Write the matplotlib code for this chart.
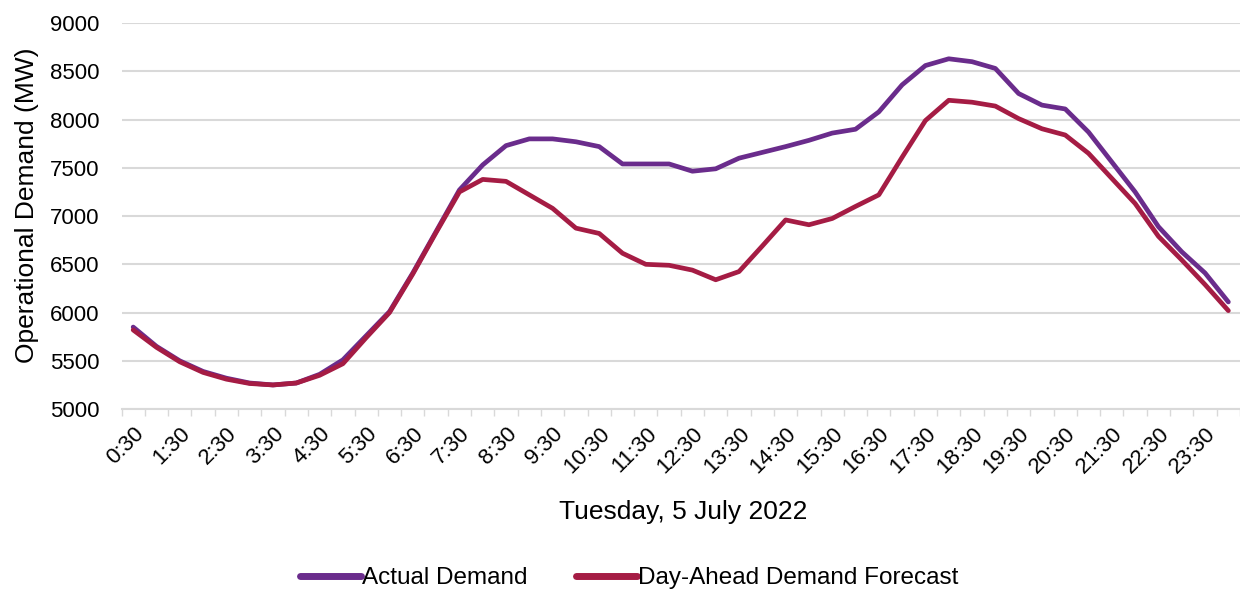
import matplotlib
matplotlib.use("Agg")
import matplotlib.pyplot as plt
import numpy as np

plt.rcParams['font.family'] = ['Liberation Sans', 'DejaVu Sans']

# half-hourly periods ending 0:30 ... 24:00
times = ['0:30', '1:00', '1:30', '2:00', '2:30', '3:00', '3:30', '4:00',
         '4:30', '5:00', '5:30', '6:00', '6:30', '7:00', '7:30', '8:00',
         '8:30', '9:00', '9:30', '10:00', '10:30', '11:00', '11:30', '12:00',
         '12:30', '13:00', '13:30', '14:00', '14:30', '15:00', '15:30', '16:00',
         '16:30', '17:00', '17:30', '18:00', '18:30', '19:00', '19:30', '20:00',
         '20:30', '21:00', '21:30', '22:00', '22:30', '23:00', '23:30', '24:00']

actual = [5850, 5650, 5500, 5390, 5320, 5270, 5250, 5270, 5360, 5510, 5760, 6010,
          6410, 6840, 7270, 7530, 7730, 7800, 7800, 7770, 7720, 7540, 7540, 7540,
          7465, 7490, 7600, 7660, 7720, 7785, 7860, 7900, 8080, 8360, 8560, 8630,
          8600, 8530, 8270, 8150, 8110, 7870, 7560, 7250, 6890, 6630, 6410, 6110]

forecast = [5820, 5640, 5490, 5380, 5310, 5265, 5250, 5270, 5350, 5470, 5740, 6000,
            6400, 6830, 7250, 7380, 7360, 7220, 7080, 6875, 6820, 6615, 6500, 6490,
            6440, 6340, 6425, 6690, 6960, 6910, 6975, 7100, 7220, 7610, 7990, 8200,
            8180, 8140, 8010, 7905, 7840, 7650, 7390, 7130, 6790, 6545, 6290, 6020]

purple = '#6a2c8c'
red = '#a51c44'

fig = plt.figure(figsize=(12.4, 5.92), dpi=100)
ax = fig.add_axes([0.098, 0.309, 0.902, 0.652])

x = np.arange(len(times))
ax.plot(x, actual, color=purple, lw=3.4, label='Actual Demand', solid_capstyle='round')
ax.plot(x, forecast, color=red, lw=3.4, label='Day-Ahead Demand Forecast', solid_capstyle='round')

ax.set_xlim(-0.5, len(times) - 0.5)
ax.set_ylim(5000, 9000)
ax.set_yticks(np.arange(5000, 9001, 500))
ax.grid(axis='y', color='#d9d9d9', lw=1.5)
ax.set_axisbelow(True)

ax.set_xticks(x[::2])
ax.set_xticklabels(times[::2], rotation=45, ha='right', rotation_mode='anchor')
ax.set_xticks(np.arange(-0.5, len(times), 1), minor=True)
ax.tick_params(axis='x', which='major', length=0, labelsize=16, pad=10)
ax.tick_params(axis='x', which='minor', length=5, color='#d9d9d9', width=1)
ax.tick_params(axis='y', length=0, labelsize=16, pad=16)

for s in ['top', 'right', 'left']:
    ax.spines[s].set_visible(False)
ax.spines['bottom'].set_color('#d9d9d9')
ax.spines['bottom'].set_linewidth(1.5)

fig.text(27 / 1240, 1 - 205 / 592, 'Operational Demand (MW)', rotation=90,
         ha='center', va='center', fontsize=19)
fig.text(683 / 1240, 1 - 512 / 592, 'Tuesday, 5 July 2022',
         ha='center', va='center', fontsize=19)

fig.legend(loc='center', bbox_to_anchor=(629 / 1240, 1 - 578 / 592), ncol=2, frameon=False,
           fontsize=17.5, handlelength=2.5, columnspacing=2.0, handletextpad=0.05)
for h in fig.legends[0].get_lines():
    h.set_linewidth(5)

fig.savefig('out.png', dpi=100)
